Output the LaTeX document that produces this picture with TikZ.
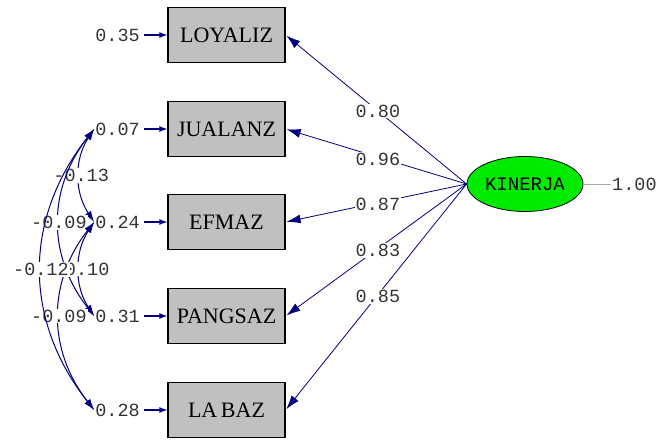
\documentclass[tikz,border=0pt]{standalone}
\usepackage{fontspec}
\setmainfont{Liberation Serif}
\setmonofont{Liberation Mono}
\usetikzlibrary{shapes.geometric,arrows.meta}
\definecolor{pathblue}{RGB}{0,0,128}
\definecolor{boxgray}{RGB}{192,192,192}
\definecolor{latgreen}{RGB}{0,235,0}
\begin{document}
\begin{tikzpicture}[x = 1pt, y = -1pt,
    obs/.style = {draw, line width = 1.3pt, fill = boxgray, minimum width = 117pt,
      minimum height = 55pt, inner sep = 0pt, font = \fontsize{22}{24}\selectfont},
    lat/.style = {ellipse, draw, line width = .8pt, fill = latgreen, minimum width = 116pt,
      minimum height = 55pt, inner sep = 0pt, font = \ttfamily\fontsize{19}{21}\selectfont},
    val/.style = {inner sep = 1pt, text = black!80, font = \ttfamily\fontsize{18.5}{20}\selectfont},
    lab/.style = {val, fill = white},
    load/.style = {pathblue, line width = .8pt, shorten > = 1pt, -{Latex[length = 14pt, width = 9pt]}},
    err/.style = {pathblue, line width = 1.2pt, shorten < = 3pt, -{Latex[length = 8pt, width = 6pt]}},
    cov/.style = {pathblue, line width = 1pt, {Latex[length = 11pt, width = 7pt]}-{Latex[length = 11pt, width = 7pt]}}]
  \useasboundingbox (0,0) rectangle (657,441);
  \node [obs] (loy) at (226.5,35) {LOYALIZ};
  \node [obs] (jua) at (226.5,129) {JUALANZ};
  \node [obs] (efm) at (226.5,222) {EFMAZ};
  \node [obs] (pan) at (226.5,316) {PANGSAZ};
  \node [obs] (lab) at (226.5,410) {LA\,BAZ};
  \node [lat] (kin) at (525,184) {KINERJA};
  \node [val, anchor = east] (e1) at (141,35) {0.35};
  \node [val, anchor = east] (e2) at (141,129) {0.07};
  \node [val, anchor = east] (e3) at (141,222) {0.24};
  \node [val, anchor = east] (e4) at (141,316) {0.31};
  \node [val, anchor = east] (e5) at (141,410) {0.28};
  \node [val, anchor = west] (v) at (611,184) {1.00};
  \draw [gray!70, line width = .8pt] (kin.east) -- (v.west);
  \draw [err] (e1.east) -- (loy.west);
  \draw [err] (e2.east) -- (jua.west);
  \draw [err] (e3.east) -- (efm.west);
  \draw [err] (e4.east) -- (pan.west);
  \draw [err] (e5.east) -- (lab.west);
  \draw [load] (kin.west) -- (loy.east) node [lab, pos = .49] {0.80};
  \draw [load] (kin.west) -- (jua.east) node [lab, pos = .49, yshift = -2pt] {0.96};
  \draw [load] (kin.west) -- (efm.east) node [lab, pos = .49, yshift = -2pt] {0.87};
  \draw [load] (kin.west) -- (pan.east) node [lab, pos = .49, yshift = -2pt] {0.83};
  \draw [load] (kin.west) -- (lab.east) node [lab, pos = .49, yshift = -2pt] {0.85};
  \draw [cov] (e2.west) .. controls +(-20,30) and +(-20,-30) .. (e3.west) node [lab, pos = .5, xshift = 2pt] {-0.13};
  \draw [cov] (e3.west) .. controls +(-20,30) and +(-20,-30) .. (e4.west) node [lab, pos = .5, xshift = 8pt] {0.10};
  \draw [cov] (e2.west) .. controls +(-47,60) and +(-47,-60) .. (e4.west) node [lab, pos = .5] {-0.09};
  \draw [cov] (e3.west) .. controls +(-47,60) and +(-47,-60) .. (e5.west) node [lab, pos = .5] {-0.09};
  \draw [cov] (e2.west) .. controls +(-71,90) and +(-71,-90) .. (e5.west) node [lab, pos = .5] {-0.12};
\end{tikzpicture}
\end{document}
